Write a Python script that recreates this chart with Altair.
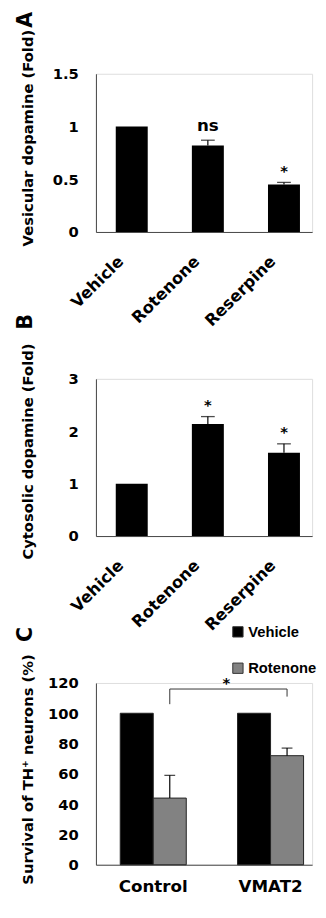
import altair as alt
import pandas as pd

# ---------------- data ----------------
PANEL_LETTERS = ["A", "B", "C"]

A_cats = ["Vehicle", "Rotenone", "Reserpine"]
A_vals = [1.0, 0.82, 0.45]
A_err = [0.0, 0.05, 0.02]
A_sig = ["", "ns", "*"]

B_cats = ["Vehicle", "Rotenone", "Reserpine"]
B_vals = [1.0, 2.14, 1.59]
B_err = [0.0, 0.14, 0.17]
B_sig = ["", "*", "*"]

C_groups = ["Control", "VMAT2"]
C_treat = ["Vehicle", "Rotenone"]
C_vehicle = [100, 100]
C_vehicle_err = [0, 0]
C_rotenone = [44, 72]
C_rotenone_err = [15, 5]

# significance bracket (Control-Rotenone vs VMAT2-Rotenone)
BR_groups = ["Control", "Control", "VMAT2", "VMAT2"]
BR_y = [106, 116, 116, 111]
BR_sig = "*"

FONT = "DejaVu Sans"
LFONT = "Liberation Sans"
DOMAIN = "#444444"
W = 220


def y_axis(title, title_y, values, fmt):
    return alt.Axis(
        title=title, values=values, format=fmt, grid=False, ticks=False, tickSize=0,
        labelFont=FONT, labelFontWeight="bold", labelFontSize=15, labelColor="black",
        labelPadding=18, domainColor=DOMAIN, domainWidth=1,
        titleFont=FONT, titleFontWeight="bold", titleFontSize=15, titleColor="black",
        titleX=-62, titleY=title_y, titleAngle=270, titleBaseline="bottom", titleAlign="center",
    )


def letter(ch, y):
    return alt.Chart(pd.DataFrame({"t": [ch]})).mark_text(
        angle=270, font=FONT, fontWeight="bold", fontSize=21, color="black"
    ).encode(text="t:N", x=alt.value(-71), y=alt.value(y))


def simple_panel(cats, vals, errs, sigs, ymax, yvals, fmt, title, title_y, letter_ch, letter_y, h):
    df = pd.DataFrame({"cat": cats, "value": vals, "err": errs, "sig": sigs})
    df["upper"] = df["value"] + df["err"]
    x_axis = alt.Axis(
        title=None, labelAngle=315, labelAlign="right", labelBaseline="middle",
        labelFont=FONT, labelFontWeight="bold", labelFontSize=16.5, labelColor="black",
        labelPadding=27, labelOffset=-11, ticks=False, tickSize=0,
        domainColor=DOMAIN, domainWidth=1,
    )
    ax = y_axis(title, title_y, yvals, fmt)
    x = alt.X("cat:N", sort=cats,
              scale=alt.Scale(paddingInner=0.58, paddingOuter=0.21, align=0.62), axis=x_axis)
    ysc = alt.Scale(domain=[0, ymax], nice=False)
    base = alt.Chart(df)
    bars = base.mark_bar(color="black").encode(x=x, y=alt.Y("value:Q", scale=ysc, axis=ax))
    eb = base.transform_filter("datum.err > 0")
    rule = eb.mark_rule(color="black", strokeWidth=1.2).encode(
        x=x, y=alt.Y("value:Q", scale=ysc, axis=ax), y2="upper:Q")
    cap = eb.mark_tick(color="black", size=14, thickness=1.3).encode(
        x=x, y=alt.Y("upper:Q", scale=ysc, axis=ax))
    ns = base.transform_filter("datum.sig == 'ns'").mark_text(
        font=FONT, fontWeight="bold", fontSize=17, baseline="alphabetic", dy=-9.5, color="black"
    ).encode(x=x, y=alt.Y("upper:Q", scale=ysc, axis=ax), text="sig:N")
    star = base.transform_filter("datum.sig == '*'").mark_text(
        font=FONT, fontWeight="bold", fontSize=15, baseline="alphabetic", dy=-7, color="black"
    ).encode(x=x, y=alt.Y("upper:Q", scale=ysc, axis=ax), text="sig:N")
    return alt.layer(bars, rule, cap, ns, star, letter(letter_ch, letter_y)).properties(width=W, height=h)


panelA = simple_panel(A_cats, A_vals, A_err, A_sig, 1.5, [0, 0.5, 1, 1.5], ".1~f",
                      "Vesicular dopamine (Fold)", 65, PANEL_LETTERS[0], -55, 161)
panelB = simple_panel(B_cats, B_vals, B_err, B_sig, 3, [0, 1, 2, 3], "d",
                      "Cytosolic dopamine (Fold)", 73.5, PANEL_LETTERS[1], -58, 160)

# ---------------- panel C ----------------
dfC = pd.DataFrame({
    "group": C_groups + C_groups,
    "treat": [C_treat[0]] * 2 + [C_treat[1]] * 2,
    "value": C_vehicle + C_rotenone,
    "err": C_vehicle_err + C_rotenone_err,
})
dfC["upper"] = dfC["value"] + dfC["err"]

xaxC = alt.Axis(title=None, labelAngle=0, labelFont=FONT, labelFontWeight="bold",
                labelFontSize=17, labelColor="black", labelPadding=27.5, labelBaseline="alphabetic",
                ticks=False, tickSize=0, domainColor=DOMAIN, domainWidth=1)
xscC = alt.Scale(paddingInner=0.437, paddingOuter=0.14, align=0.74)
xC = alt.X("group:N", sort=C_groups, scale=xscC, axis=xaxC)
xoC = alt.XOffset("treat:N", sort=C_treat, scale=alt.Scale(domain=C_treat, paddingInner=0, paddingOuter=0))
yscC = alt.Scale(domain=[0, 120], nice=False)
axC = y_axis("Survival of TH\u207a neurons (%)", 87.5, [0, 20, 40, 60, 80, 100, 120], "d")

baseC = alt.Chart(dfC)
barsC = baseC.mark_bar(stroke="#222222", strokeWidth=1).encode(
    x=xC, xOffset=xoC,
    y=alt.Y("value:Q", scale=yscC, axis=axC),
    color=alt.Color("treat:N", sort=C_treat,
                    scale=alt.Scale(domain=C_treat, range=["#000000", "#828282"]),
                    legend=alt.Legend(title=None, orient="none", legendX=137, legendY=-59.5,
                                      symbolType="square", symbolSize=110,
                                      symbolStrokeColor="#333333", symbolStrokeWidth=1,
                                      labelFont=LFONT, labelFontSize=15, labelFontWeight="bold",
                                      labelColor="black", labelOffset=3, rowPadding=21, padding=0)),
)
ebC = baseC.transform_filter("datum.err > 0")
ruleC = ebC.mark_rule(color="black", strokeWidth=1.2).encode(
    x=xC, xOffset=xoC, y=alt.Y("value:Q", scale=yscC, axis=axC), y2="upper:Q")
capC = ebC.mark_tick(color="black", size=11, thickness=1.3).encode(
    x=xC, xOffset=xoC, y=alt.Y("upper:Q", scale=yscC, axis=axC))

dfBr = pd.DataFrame({"group": BR_groups, "treat": [C_treat[1]] * 4, "y": BR_y, "o": [0, 1, 2, 3]})
bracket = alt.Chart(dfBr).mark_line(color="#333333", strokeWidth=1).encode(
    x=xC, xOffset=xoC, y=alt.Y("y:Q", scale=yscC, axis=axC), order="o:Q")
starC = alt.Chart(pd.DataFrame({"group": [C_groups[1]], "y": [max(BR_y)], "t": [BR_sig]})).mark_text(
    font=FONT, fontWeight="bold", fontSize=15, baseline="alphabetic", dy=-1, dx=-11.5, color="black"
).encode(x=alt.X("group:N", sort=C_groups, bandPosition=0, scale=xscC, axis=xaxC),
         y=alt.Y("y:Q", scale=yscC, axis=axC), text="t:N")

panelC = alt.layer(barsC, ruleC, capC, bracket, starC, letter(PANEL_LETTERS[2], -49.5)).properties(
    width=W, height=185)

chart = alt.vconcat(panelA, panelB, panelC, spacing=149.5, bounds="flush").resolve_scale(
    color="independent"
).properties(
    padding={"left": 6.5, "top": -5, "right": 0, "bottom": 0}
).configure_view(strokeWidth=0).configure(background="white")

chart.save("out.html", embed_options={"renderer": "svg", "actions": False})
